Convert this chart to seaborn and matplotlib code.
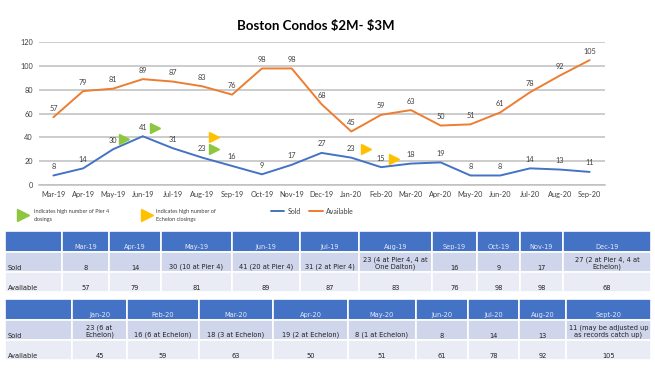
import numpy as np
import pandas as pd
import seaborn as sns
import matplotlib
matplotlib.use('Agg')
from matplotlib import pyplot as plt
from matplotlib.lines import Line2D
from matplotlib.patches import Rectangle
from matplotlib.transforms import ScaledTranslation

# chart data
months = ['Mar-19', 'Apr-19', 'May-19', 'Jun-19', 'Jul-19', 'Aug-19', 'Sep-19', 'Oct-19', 'Nov-19', 'Dec-19',
          'Jan-20', 'Feb-20', 'Mar-20', 'Apr-20', 'May-20', 'Jun-20', 'Jul-20', 'Aug-20', 'Sep-20']
sold = [8, 14, 30, 41, 31, 23, 16, 9, 17, 27, 23, 15, 18, 19, 8, 8, 14, 13, 11]
available = [57, 79, 81, 89, 87, 83, 76, 98, 98, 68, 45, 59, 63, 50, 51, 61, 78, 92, 105]

# months flagged with triangles (on the Sold line)
pier4_months = ['May-19', 'Jun-19', 'Aug-19']
echelon_months = ['Aug-19', 'Jan-20', 'Feb-20']

# tables
table1_months = ['Mar-19', 'Apr-19', 'May-19', 'Jun-19', 'Jul-19', 'Aug-19', 'Sep-19', 'Oct-19', 'Nov-19', 'Dec-19']
table1_sold = ['8', '14', '30 (10 at Pier 4)', '41 (20 at Pier 4)', '31 (2 at Pier 4)',
               '23 (4 at Pier 4, 4 at\nOne Dalton)', '16', '9', '17', '27 (2 at Pier 4, 4 at\nEchelon)']
table1_available = ['57', '79', '81', '89', '87', '83', '76', '98', '98', '68']

table2_months = ['Jan-20', 'Feb-20', 'Mar-20', 'Apr-20', 'May-20', 'Jun-20', 'Jul-20', 'Aug-20', 'Sept-20']
table2_sold = ['23 (6 at\nEchelon)', '16 (6 at Echelon)', '18 (3 at Echelon)', '19 (2 at Echelon)',
               '8 (1 at Echelon)', '8', '14', '13', '11 (may be adjusted up\nas records catch up)']
table2_available = ['45', '59', '63', '50', '51', '61', '78', '92', '105']

BLUE = '#4472C4'
ORANGE = '#ED7D31'
GREEN = '#8DC63F'
YELLOW = '#FFC000'

sns.set_theme(style='white')
plt.rcParams['font.family'] = ['Lato', 'DejaVu Sans']

W, H = 655, 368
fig = plt.figure(figsize=(W / 100, H / 100), dpi=100)

# ---- line chart ----
ax = fig.add_axes([38.5 / W, 1 - 185 / H, 566 / W, 142.7 / H])

df = pd.DataFrame({'x': np.arange(len(months)), 'Sold': sold, 'Available': available})
long_df = df.melt(id_vars='x', var_name='series', value_name='value')
sns.lineplot(data=long_df, x='x', y='value', hue='series', palette={'Sold': BLUE, 'Available': ORANGE},
             linewidth=1.4, ax=ax, legend=False)

ax.set_xlim(-0.5, len(months) - 0.5)
ax.set_ylim(0, 120)
ax.set_yticks(range(0, 121, 20))
ax.set_xticks(np.arange(len(months)))
ax.set_xticklabels(months)
ax.set_xticks(np.arange(len(months) + 1) - 0.5, minor=True)
ax.tick_params(axis='x', which='major', length=0, labelsize=5.3, colors='#404040', pad=4)
ax.tick_params(axis='x', which='minor', length=3, color='#bfbfbf', width=0.8)
ax.tick_params(axis='y', length=0, labelsize=5.3, colors='#404040', pad=4)
ax.set_xlabel('')
ax.set_ylabel('')
ax.grid(axis='y', color='#bfbfbf', linewidth=1.1)
ax.set_axisbelow(True)
for s in ['top', 'right', 'left']:
    ax.spines[s].set_visible(False)
ax.spines['bottom'].set_color('#bfbfbf')
ax.spines['bottom'].set_linewidth(1.1)

for i in range(len(months)):
    for vals in (sold, available):
        ax.annotate(str(vals[i]), (i, vals[i]), xytext=(0, 6.5), textcoords='offset points',
                    ha='center', va='center', fontsize=5.3, color='#404040')

# triangles, offset (in px) from the Sold point
pier4_offsets = [(11.5, 10.5), (12.5, 8.5), (12, 9)]
echelon_offsets = [(12, 21), (15, 9), (12.5, 8.5)]
for mlist, offs, col in ((pier4_months, pier4_offsets, GREEN), (echelon_months, echelon_offsets, YELLOW)):
    for m, (dx, dy) in zip(mlist, offs):
        i = months.index(m)
        tr = ax.transData + ScaledTranslation(dx / 100, dy / 100, fig.dpi_scale_trans)
        ax.plot([i], [sold[i]], marker='>', markersize=7.5, color=col, linestyle='none',
                transform=tr, clip_on=False)

fig.text(316 / W, 1 - 26 / H, 'Boston Condos \\$2M- \\$3M', ha='center', va='center',
         fontsize=9.5, fontweight='bold', color='#000000')

# legends
handles = [Line2D([], [], color=BLUE, linewidth=1.4), Line2D([], [], color=ORANGE, linewidth=1.4)]
fig.legend(handles, ['Sold', 'Available'], loc='center', bbox_to_anchor=(312 / W, 1 - 211 / H),
           ncol=2, frameon=False, fontsize=5, handlelength=2.0, handletextpad=0.4, columnspacing=1.2,
           labelcolor='#404040')

fig.add_artist(Line2D([22.5 / W], [1 - 215 / H], marker='>', markersize=8, color=GREEN,
                      linestyle='none', transform=fig.transFigure))
fig.text(34 / W, 1 - 215.5 / H, 'Indicates high number of Pier 4\nclosings', ha='left', va='center',
         fontsize=4, color='#404040', linespacing=1.5)
fig.add_artist(Line2D([147 / W], [1 - 215 / H], marker='>', markersize=8, color=YELLOW,
                      linestyle='none', transform=fig.transFigure))
fig.text(156 / W, 1 - 215.5 / H, 'Indicates high number of\nEchelon closings', ha='left', va='center',
         fontsize=4, color='#404040', linespacing=1.5)

# ---- tables ----
tab = fig.add_axes([0, 0, 1, 1])
tab.set_xlim(0, W)
tab.set_ylim(H, 0)
tab.axis('off')


def draw_table(edges, rows_y, header, sold_txt, avail_txt):
    fills = ['#4472C4', '#CFD5EA', '#E9EBF5']
    texts = [[''] + header, ['Sold'] + sold_txt, ['Available'] + avail_txt]
    for r in range(3):
        y0, y1 = rows_y[r], rows_y[r + 1]
        for c in range(len(edges) - 1):
            x0, x1 = edges[c], edges[c + 1]
            tab.add_patch(Rectangle((x0, y0), x1 - x0, y1 - y0, facecolor=fills[r],
                                    edgecolor='white', linewidth=1.2))
            t = texts[r][c]
            if not t:
                continue
            if r == 0:
                tab.text((x0 + x1) / 2, y1 - 2, t, ha='center', va='bottom', fontsize=4.8,
                         color='#E4E9F7', family='DejaVu Sans')
            elif c == 0:
                tab.text(x0 + 3, y1 - 1.5, t, ha='left', va='bottom', fontsize=4.8,
                         color='#222222', family='DejaVu Sans')
            else:
                tab.text((x0 + x1) / 2, y1 - 1.5, t, ha='center', va='bottom', fontsize=4.8,
                         color='#222222', family='DejaVu Sans', linespacing=1.25)


draw_table([5, 62, 109, 161, 232, 300, 359, 432, 477, 520, 563, 651], [231, 252, 272, 292],
           table1_months, table1_sold, table1_available)
draw_table([5, 72, 127, 199, 273, 348, 416, 468, 519, 566, 651], [299, 320, 340, 360],
           table2_months, table2_sold, table2_available)

fig.savefig('out.png', dpi=100)
